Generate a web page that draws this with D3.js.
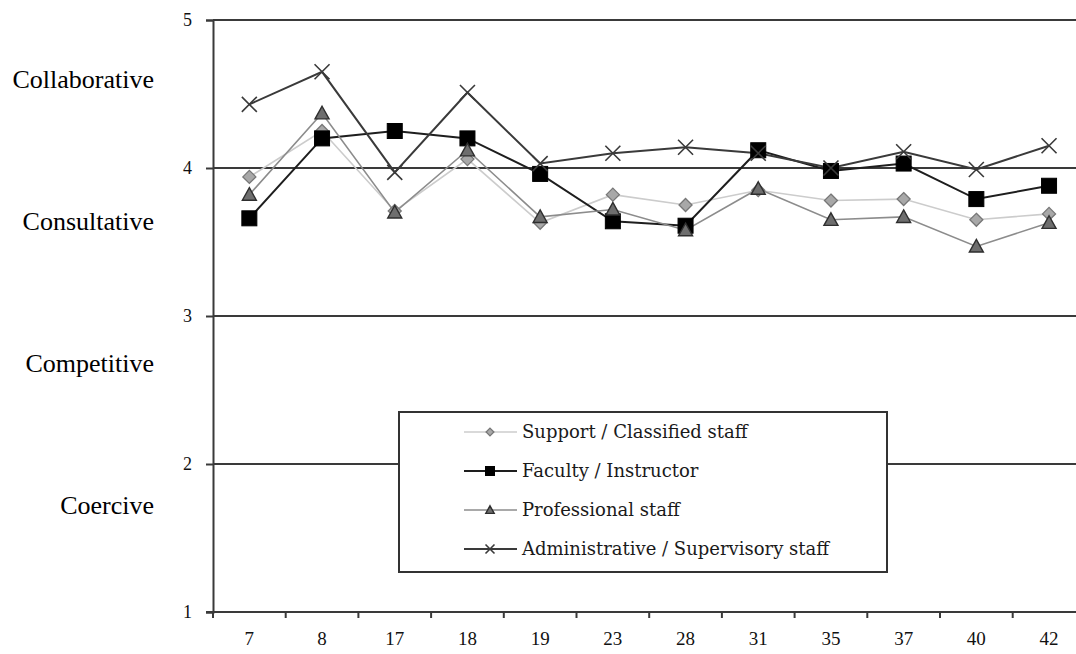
<!DOCTYPE html>
<html>
<head>
<meta charset="utf-8">
<script src="https://cdn.jsdelivr.net/npm/d3@7"></script>
<style>
  html, body { margin: 0; padding: 0; background: #fff; }
  svg { display: block; }
</style>
</head>
<body>
<svg id="chart" width="1076" height="654"></svg>
<script>
const categories = ["7","8","17","18","19","23","28","31","35","37","40","42"];
const support      = [3.94,4.25,3.71,4.06,3.63,3.82,3.75,3.85,3.78,3.79,3.65,3.69];
const faculty      = [3.66,4.20,4.25,4.20,3.96,3.64,3.61,4.12,3.98,4.03,3.79,3.88];
const professional = [3.82,4.37,3.70,4.12,3.67,3.72,3.58,3.86,3.65,3.67,3.47,3.63];
const admin        = [4.43,4.65,3.97,4.51,4.03,4.10,4.14,4.10,4.00,4.11,3.99,4.15];
const seriesNames  = ["Support / Classified staff","Faculty / Instructor","Professional staff","Administrative / Supervisory staff"];
const yTicks = [1,2,3,4,5];
const styleLabels = ["Collaborative","Consultative","Competitive","Coercive"];

(function () {
const svg = d3.select("#chart");
const mLeft = 213, mTop = 20, mBottom = 612;
const bandW = 72.7;
const x = d3.scaleBand().domain(categories).range([mLeft, mLeft + bandW * categories.length]).paddingInner(0).paddingOuter(0);
const y = d3.scaleLinear().domain([1,5]).range([mBottom, mTop]);

const serif = "'Liberation Serif', 'Times New Roman', serif";
const gridColor = "#3a3a3a";

// gridlines at 2..5
svg.append("g").selectAll("line").data(yTicks.filter(v => v > 1)).join("line")
  .attr("x1", mLeft).attr("x2", 1076)
  .attr("y1", d => y(d)).attr("y2", d => y(d))
  .attr("stroke", gridColor).attr("stroke-width", 2);

// y axis
const yAxis = svg.append("g").attr("transform", `translate(${mLeft},0)`)
  .call(d3.axisLeft(y).tickValues(yTicks).tickFormat(d3.format("d")).tickSize(7).tickPadding(14));
yAxis.select(".domain").attr("stroke", gridColor).attr("stroke-width", 2);
yAxis.selectAll(".tick line").attr("stroke", gridColor).attr("stroke-width", 2);
yAxis.selectAll("text").attr("font-family", serif).attr("font-size", 18).attr("fill", "#111");

// x axis
const xAxis = svg.append("g").attr("transform", `translate(0,${mBottom})`)
  .call(d3.axisBottom(x).tickSize(0).tickPadding(20));
xAxis.select(".domain").remove();
svg.append("line").attr("x1", mLeft - 7).attr("x2", 1076).attr("y1", mBottom).attr("y2", mBottom)
  .attr("stroke", gridColor).attr("stroke-width", 2);
xAxis.selectAll("text").attr("font-family", serif).attr("font-size", 19).attr("fill", "#111");
svg.append("g").selectAll("line").data(categories).join("line")
  .attr("x1", d => x(d)).attr("x2", d => x(d))
  .attr("y1", mBottom).attr("y2", mBottom + 6)
  .attr("stroke", gridColor).attr("stroke-width", 2);

// style labels on the left
const ls = d3.scalePoint().domain(styleLabels).range([79, 505]);
svg.append("g").selectAll("text").data(styleLabels).join("text")
  .attr("x", 154).attr("y", d => ls(d))
  .attr("dy", "0.35em")
  .attr("text-anchor", "end")
  .attr("font-family", serif).attr("font-size", 26).attr("fill", "#000")
  .text(d => d);

// series
const series = [
  { name: seriesNames[0], values: support, line: "#cccccc", lw: 1.6, marker: "diamond", fill: "#a8a8a8", stroke: "#777", size: 6.5 },
  { name: seriesNames[1], values: faculty, line: "#1e1e1e", lw: 2, marker: "square", fill: "#000", stroke: "#000", size: 7.5 },
  { name: seriesNames[2], values: professional, line: "#8c8c8c", lw: 1.6, marker: "triangle", fill: "#6e6e6e", stroke: "#2e2e2e", size: 7 },
  { name: seriesNames[3], values: admin, line: "#3a3a3a", lw: 2, marker: "cross", fill: "none", stroke: "#3a3a3a", size: 7.5 }
];

function drawMarker(g, type, cx, cy, s, fill, stroke) {
  if (type === "diamond") {
    g.append("path").attr("d", `M${cx},${cy - s}L${cx + s},${cy}L${cx},${cy + s}L${cx - s},${cy}Z`)
      .attr("fill", fill).attr("stroke", stroke).attr("stroke-width", 1.3);
  } else if (type === "square") {
    g.append("rect").attr("x", cx - s).attr("y", cy - s).attr("width", 2 * s).attr("height", 2 * s)
      .attr("fill", fill).attr("stroke", stroke).attr("stroke-width", 1);
  } else if (type === "triangle") {
    g.append("path").attr("d", `M${cx},${cy - s}L${cx + s},${cy + s * 0.8}L${cx - s},${cy + s * 0.8}Z`)
      .attr("fill", fill).attr("stroke", stroke).attr("stroke-width", 1.4);
  } else if (type === "cross") {
    g.append("path").attr("d", `M${cx - s},${cy - s}L${cx + s},${cy + s}M${cx - s},${cy + s}L${cx + s},${cy - s}`)
      .attr("fill", "none").attr("stroke", stroke).attr("stroke-width", 1.6);
  }
}

const cxf = d => x(d) + x.bandwidth() / 2;
const lineGen = d3.line().x((d, i) => cxf(categories[i])).y(d => y(d));

const plot = svg.append("g");
series.forEach(s => {
  plot.append("path").datum(s.values).attr("d", lineGen)
    .attr("fill", "none").attr("stroke", s.line).attr("stroke-width", s.lw);
});
series.forEach(s => {
  const g = plot.append("g");
  s.values.forEach((v, i) => drawMarker(g, s.marker, cxf(categories[i]), y(v), s.size, s.fill, s.stroke));
});

// legend
const lg = svg.append("g");
lg.append("rect").attr("x", 399).attr("y", 412).attr("width", 488).attr("height", 160)
  .attr("fill", "#fff").attr("stroke", "#333").attr("stroke-width", 2);
const legY = d3.scalePoint().domain(seriesNames).range([432, 549]);
series.forEach(s => {
  const yy = legY(s.name);
  lg.append("line").attr("x1", 464).attr("x2", 517).attr("y1", yy).attr("y2", yy)
    .attr("stroke", s.line).attr("stroke-width", s.lw);
  drawMarker(lg, s.marker, 490, yy, s.size * 0.6, s.fill, s.stroke);
  lg.append("text").attr("x", 522).attr("y", yy).attr("dy", "0.35em")
    .attr("font-family", "'DejaVu Serif', serif").attr("font-size", 18).attr("fill", "#1a1a1a")
    .text(s.name);
});
})();
</script>
</body>
</html>
